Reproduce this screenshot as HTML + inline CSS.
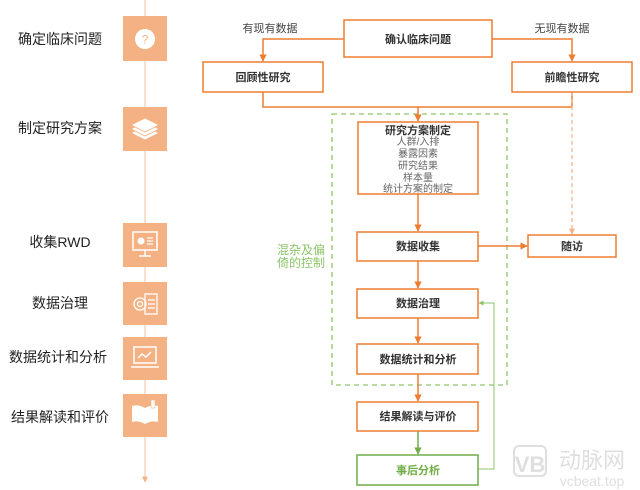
<!DOCTYPE html>
<html><head><meta charset="utf-8"><style>
html,body{margin:0;padding:0;background:#fff;}
svg{display:block;font-family:"Liberation Sans","Noto Sans CJK SC",sans-serif;}
</style></head><body>
<svg width="640" height="490" viewBox="0 0 640 490" xmlns="http://www.w3.org/2000/svg">
<defs>
<marker id="ao" viewBox="0 0 10 10" refX="9" refY="5" markerWidth="5" markerHeight="5" orient="auto"><path d="M0,0 L10,5 L0,10 z" fill="#ed7d31"/></marker>
<marker id="al" viewBox="0 0 10 10" refX="9" refY="5" markerWidth="5" markerHeight="5" orient="auto"><path d="M0,0 L10,5 L0,10 z" fill="#f4b184"/></marker>
<marker id="ag" viewBox="0 0 10 10" refX="9" refY="5" markerWidth="5" markerHeight="5" orient="auto"><path d="M0,0 L10,5 L0,10 z" fill="#70ad47"/></marker>
<marker id="agl" viewBox="0 0 10 10" refX="9" refY="5" markerWidth="5" markerHeight="5" orient="auto"><path d="M0,0 L10,5 L0,10 z" fill="#8cc56a"/></marker>
</defs>

<!-- left timeline -->
<line x1="145" y1="0" x2="145" y2="482" stroke="#f8cbad" stroke-width="1.2" marker-end="url(#al)"/>
<g fill="#f4b184">
<rect x="123" y="16" width="44" height="45"/>
<rect x="123" y="107" width="44" height="44"/>
<rect x="123" y="223" width="44" height="44"/>
<rect x="123" y="282" width="44" height="43"/>
<rect x="123" y="337" width="44" height="43"/>
<rect x="123" y="394" width="44" height="43"/>
</g>
<!-- icons -->
<circle cx="145" cy="39" r="10" fill="#fff"/>
<text x="145" y="43.5" font-size="12" fill="#f4b184" text-anchor="middle">?</text>
<g fill="#fff" stroke="#f4b184" stroke-width="0.8">
<path d="M131,133 L145,126 L159,133 L145,140 z"/>
<path d="M131,129 L145,122 L159,129 L145,136 z"/>
<path d="M131,125 L145,118 L159,125 L145,132 z"/>
</g>
<g fill="none" stroke="#fff" stroke-width="1.5">
<rect x="133" y="232" width="24" height="18"/>
<line x1="145" y1="250" x2="145" y2="256"/><line x1="139" y1="256" x2="151" y2="256"/>
</g>
<circle cx="141" cy="241" r="3.5" fill="#fff"/>
<g stroke="#fff" stroke-width="1.2"><line x1="147" y1="238" x2="153" y2="238"/><line x1="147" y1="241" x2="153" y2="241"/><line x1="147" y1="244" x2="153" y2="244"/></g>
<g fill="none" stroke="#fff" stroke-width="1.3">
<circle cx="140" cy="304" r="6"/><circle cx="140" cy="304" r="2.5"/>
<rect x="145" y="294" width="12" height="20"/>
<line x1="148" y1="300" x2="155" y2="300"/><line x1="148" y1="304" x2="155" y2="304"/><line x1="148" y1="308" x2="155" y2="308"/>
</g>
<g fill="none" stroke="#fff" stroke-width="1.5">
<rect x="134" y="347" width="22" height="16"/>
<line x1="131" y1="367" x2="159" y2="367"/>
<polyline points="138,358 142,354 146,357 151,352"/>
</g>
<path d="M132,406 Q138,404 145,408 Q152,404 158,406 L158,422 Q152,420 145,424 Q138,420 132,422 z" fill="#fff"/>
<rect x="151" y="400" width="4" height="8" fill="#fff" stroke="#f4b184" stroke-width="0.6"/>

<!-- left labels -->
<g font-size="14" fill="#222" text-anchor="middle">
<text x="60" y="44">确定临床问题</text>
<text x="60" y="133">制定研究方案</text>
<text x="60" y="247">收集RWD</text>
<text x="60" y="308">数据治理</text>
<text x="58" y="362">数据统计和分析</text>
<text x="60" y="422">结果解读和评价</text>
</g>

<!-- green dashed box -->
<rect x="332" y="114" width="175" height="271" fill="none" stroke="#8cc56a" stroke-width="1.3" stroke-dasharray="5,4"/>
<text x="301" y="254" font-size="12" fill="#8cc56a" text-anchor="middle">混杂及偏</text>
<text x="301" y="267" font-size="12" fill="#8cc56a" text-anchor="middle">倚的控制</text>

<!-- connectors orange -->
<g stroke="#ed7d31" stroke-width="1.5" fill="none">
<polyline points="344,39 263,39 263,61" marker-end="url(#ao)"/>
<polyline points="492,39 572,39 572,61" marker-end="url(#ao)"/>
<polyline points="263,92 263,107 572,107 572,92"/>
<line x1="418" y1="107" x2="418" y2="121" marker-end="url(#ao)"/>
<line x1="418" y1="194" x2="418" y2="231" marker-end="url(#ao)"/>
<line x1="418" y1="261" x2="418" y2="288" marker-end="url(#ao)"/>
<line x1="418" y1="318" x2="418" y2="343" marker-end="url(#ao)"/>
<line x1="418" y1="374" x2="418" y2="401" marker-end="url(#ao)"/>
<line x1="478" y1="246" x2="527" y2="246" marker-end="url(#ao)"/>
</g>
<line x1="572" y1="92" x2="572" y2="234" stroke="#f4b184" stroke-width="1.2" stroke-dasharray="4,3" marker-end="url(#al)"/>
<line x1="418" y1="431" x2="418" y2="454" stroke="#70ad47" stroke-width="1.5" marker-end="url(#ag)"/>
<polyline points="478,469 494,469 494,303 479,303" fill="none" stroke="#8cc56a" stroke-width="1" marker-end="url(#agl)"/>

<!-- boxes -->
<g fill="#fff" stroke="#ed7d31" stroke-width="1.5">
<rect x="344" y="20" width="148" height="37"/>
<rect x="203" y="62" width="120" height="30"/>
<rect x="512" y="62" width="120" height="30"/>
<rect x="358" y="122" width="120" height="72"/>
<rect x="357" y="232" width="121" height="29"/>
<rect x="528" y="235" width="88" height="22"/>
<rect x="357" y="289" width="121" height="29"/>
<rect x="357" y="344" width="121" height="30"/>
<rect x="357" y="402" width="121" height="29"/>
</g>
<rect x="357" y="455" width="121" height="30" fill="#fff" stroke="#70ad47" stroke-width="1.5"/>

<!-- box texts -->
<g font-size="11" font-weight="bold" fill="#333" text-anchor="middle">
<text x="418" y="43">确认临床问题</text>
<text x="263" y="81">回顾性研究</text>
<text x="572" y="81">前瞻性研究</text>
<text x="418" y="134">研究方案制定</text>
<text x="418" y="250">数据收集</text>
<text x="572" y="250">随访</text>
<text x="418" y="307">数据治理</text>
<text x="418" y="363">数据统计和分析</text>
<text x="418" y="420">结果解读与评价</text>
<text x="418" y="474" fill="#70ad47">事后分析</text>
</g>
<g font-size="10" fill="#666" text-anchor="middle">
<text x="418" y="145">人群/入排</text>
<text x="418" y="157">暴露因素</text>
<text x="418" y="169">研究结果</text>
<text x="418" y="181">样本量</text>
<text x="418" y="192">统计方案的制定</text>
</g>
<g font-size="11" fill="#444" text-anchor="middle">
<text x="270" y="32">有现有数据</text>
<text x="562" y="32">无现有数据</text>
</g>

<!-- watermark -->
<g opacity="0.9">
<rect x="514" y="446" width="32" height="30" rx="5" fill="none" stroke="#dcdcdc" stroke-width="2"/>
<text x="530" y="472" font-size="22" font-weight="bold" fill="#dcdcdc" text-anchor="middle">VB</text>
<text x="592" y="468" font-size="22" fill="#dcdcdc" text-anchor="middle">动脉网</text>
<text x="592" y="486" font-size="14" fill="#dcdcdc" text-anchor="middle">vcbeat.top</text>
</g>
</svg>
</body></html>
